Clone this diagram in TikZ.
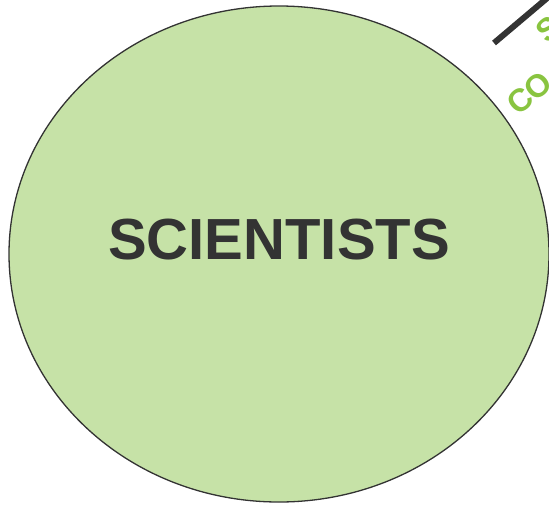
\documentclass[tikz,border=0pt]{standalone}
\usepackage{fontspec}
\setmainfont{Liberation Sans}
\usepackage{xcolor}
\usetikzlibrary{calc, shapes.geometric}
\definecolor{sciFill}{RGB}{198,226,167}
\definecolor{sciDark}{RGB}{51,51,51}
\definecolor{sciGreen}{RGB}{137,196,64}

\begin{document}
\begin{tikzpicture}[x=1pt, y=-1pt]
        \useasboundingbox (0,0) rectangle (549,504);
        \clip (0,0) rectangle (549,504);
        % main circle
        \node[draw=sciDark, fill=sciFill, line width=1.3pt, ellipse, minimum width=540pt, minimum height=496pt, inner sep=0pt] (sci) at (279,254) {};
        \node[font=\fontsize{58}{60}\selectfont\bfseries, text=sciDark] (scilabel) at (279,240) {SCIENTISTS};
        % link leaving to the upper right
        \coordinate (linkA) at (494,43);
        \coordinate (linkB) at (552,-6);
        \draw[sciDark, line width=6pt] (linkA) -- (linkB);
        \node[font=\fontsize{32}{34}\selectfont\bfseries, text=sciGreen, rotate=40, anchor=base west, inner sep=0pt] (colabel) at (518,117) {CO};
        \node[font=\fontsize{32}{34}\selectfont\bfseries, text=sciGreen, rotate=40, anchor=base west, inner sep=0pt] (slabel) at (547,45) {S};
      \end{tikzpicture}
\end{document}
